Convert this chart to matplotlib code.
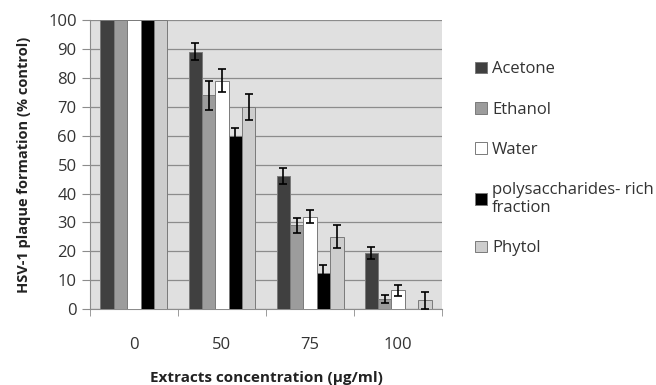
import numpy as np
import matplotlib.pyplot as plt

concentrations = ["0", "50", "75", "100"]
series = ["Acetone", "Ethanol", "Water", "polysaccharides- rich\nfraction", "Phytol"]

acetone = [100, 89, 46, 19.5]
ethanol = [100, 74, 29, 3.5]
water = [100, 79, 32, 6.5]
poly = [100, 60, 12.5, 0]
phytol = [100, 70, 25, 3]

acetone_err = [0, 3, 2.8, 2]
ethanol_err = [0, 5, 2.5, 1.5]
water_err = [0, 4, 2.3, 2]
poly_err = [0, 2.8, 2.8, 0]
phytol_err = [0, 4.5, 4, 3]

colors = ["#404040", "#9c9c9c", "#ffffff", "#000000", "#cdcdcd"]

plt.rcParams["font.family"] = ["Open Sans", "DejaVu Sans"]

fig = plt.figure(figsize=(6.56, 3.85), dpi=100)
ax = fig.add_axes([0.137, 0.197, 0.537, 0.751])

values = [acetone, ethanol, water, poly, phytol]
errors = [acetone_err, ethanol_err, water_err, poly_err, phytol_err]
x = np.arange(len(concentrations))
w = 0.152

for i, (vals, errs) in enumerate(zip(values, errors)):
    pos = x + (i - 2) * w
    ax.bar(pos, vals, w, color=colors[i], edgecolor="#7a7a7a", linewidth=0.7,
           label=series[i], zorder=3)
    mask = np.array(errs) > 0
    ax.errorbar(pos[mask], np.array(vals)[mask], yerr=np.array(errs)[mask],
                fmt="none", ecolor="black", elinewidth=1.2, capsize=3,
                capthick=1.2, zorder=4)

ax.set_facecolor("#e0e0e0")
ax.set_xlim(-0.5, 3.5)
ax.set_ylim(0, 100)
ax.set_yticks(range(0, 101, 10))
ax.yaxis.grid(True, color="#8c8c8c", linewidth=0.9, zorder=1)
ax.set_axisbelow(True)

ax.set_xticks(x)
ax.set_xticklabels(concentrations, fontsize=12, color="#333333")
ax.set_xticks(np.arange(-0.5, 4, 1), minor=True)
ax.tick_params(axis="x", which="major", length=0, pad=20)
ax.tick_params(axis="x", which="minor", length=5, color="#8c8c8c")
ax.tick_params(axis="y", labelsize=12, colors="#333333", length=6, color="#8c8c8c")

for s in ["top", "right"]:
    ax.spines[s].set_visible(False)
ax.spines["left"].set_color("#8c8c8c")
ax.spines["bottom"].set_color("#8c8c8c")

ax.set_xlabel("Extracts concentration (\u00b5g/ml)", fontsize=11, fontweight="bold",
              color="#222222", labelpad=13)
ax.set_ylabel("HSV-1 plaque formation (% control)", fontsize=10.5, fontweight="bold",
              color="#222222", labelpad=12)

leg = ax.legend(loc="upper left", bbox_to_anchor=(1.075, 0.88), frameon=False,
                fontsize=12, handlelength=0.7, handleheight=0.7, handletextpad=0.3,
                labelspacing=1.45, borderaxespad=0)
for t in leg.get_texts():
    t.set_color("#333333")

fig.savefig("out.png", dpi=100)
